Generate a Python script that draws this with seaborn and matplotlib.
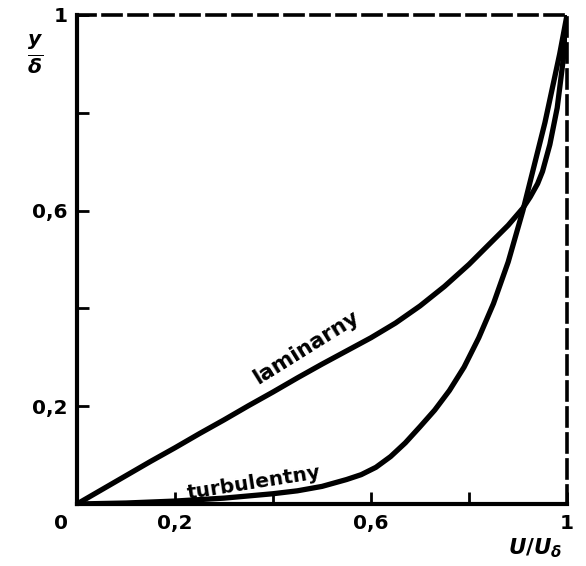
import matplotlib
matplotlib.use('Agg')
import matplotlib.pyplot as plt
import seaborn as sns
import pandas as pd

# velocity profiles: U/U_delta vs y/delta
laminar_u = [0.0, 0.05, 0.1, 0.15, 0.2, 0.25, 0.3, 0.35, 0.4, 0.45, 0.5, 0.55, 0.6,
             0.65, 0.7, 0.75, 0.8, 0.85, 0.88, 0.91, 0.925, 0.94, 0.95, 0.965, 0.98, 0.99, 0.997, 1.0]
laminar_y = [0.0, 0.029, 0.058, 0.087, 0.115, 0.144, 0.172, 0.201, 0.229, 0.258, 0.286, 0.313, 0.34,
             0.37, 0.405, 0.445, 0.49, 0.54, 0.57, 0.605, 0.628, 0.655, 0.68, 0.735, 0.81, 0.89, 0.95, 1.0]

turbulent_u = [0.0, 0.1, 0.2, 0.3, 0.4, 0.45, 0.5, 0.55, 0.58, 0.61, 0.64, 0.67, 0.7, 0.73,
               0.76, 0.79, 0.82, 0.85, 0.88, 0.91, 0.935, 0.955, 0.97, 0.985, 1.0]
turbulent_y = [0.0, 0.002, 0.006, 0.012, 0.021, 0.027, 0.036, 0.05, 0.06, 0.075, 0.097, 0.125, 0.158, 0.192,
               0.232, 0.28, 0.34, 0.41, 0.495, 0.60, 0.70, 0.78, 0.85, 0.92, 1.0]

x_ticks = [0.0, 0.2, 0.4, 0.6, 0.8, 1.0]
x_labels = ['', '0,2', '', '0,6', '', '1']
y_ticks = [0.0, 0.2, 0.4, 0.6, 0.8, 1.0]
y_labels = ['', '0,2', '', '0,6', '', '1']

sns.set_style('ticks')
plt.rcParams['font.family'] = ['DejaVu Sans']
plt.rcParams['text.color'] = 'black'
plt.rcParams['mathtext.fontset'] = 'custom'
plt.rcParams['mathtext.it'] = 'DejaVu Sans:bold:italic'
plt.rcParams['mathtext.rm'] = 'DejaVu Sans:bold'
plt.rcParams['mathtext.bf'] = 'DejaVu Sans:bold'

fig = plt.figure(figsize=(5.86, 5.66), dpi=100)
ax = fig.add_axes([77 / 586, 1 - 504 / 566, 490 / 586, 489 / 566])

df_lam = pd.DataFrame({'u': laminar_u, 'y': laminar_y})
df_tur = pd.DataFrame({'u': turbulent_u, 'y': turbulent_y})
for d in (df_lam, df_tur):
    sns.lineplot(data=d, x='u', y='y', ax=ax, color='black', lw=3.8,
                 estimator=None, sort=False, solid_capstyle='round',
                 solid_joinstyle='round')

ax.set_xlim(0, 1)
ax.set_ylim(0, 1)
ax.set_xlabel('')
ax.set_ylabel('')

# frame: solid left/bottom, dashed top/right
for side in ['left', 'bottom']:
    ax.spines[side].set_linewidth(3)
    ax.spines[side].set_color('black')
for side in ['top', 'right']:
    ax.spines[side].set_linewidth(2.6)
    ax.spines[side].set_color('black')
    ax.spines[side].set_linestyle((0, (5, 2.2)))

ax.set_xticks(x_ticks)
ax.set_xticklabels(x_labels, fontsize=14.5, fontweight='bold')
ax.set_yticks(y_ticks)
ax.set_yticklabels(y_labels, fontsize=14.5, fontweight='bold')
ax.tick_params(direction='in', length=8.5, width=2, pad=7, colors='black')
ax.tick_params(top=False, right=False)

ax.text(-0.018, -0.02, '0', transform=ax.transAxes, ha='right', va='top',
        fontsize=14.5, fontweight='bold')

ax.text(-0.085, 0.92, r'$\frac{y}{\delta}$', transform=ax.transAxes,
        ha='center', va='center', fontsize=21)
ax.text(0.99, -0.066, r'$U/U_\delta$', transform=ax.transAxes,
        ha='right', va='top', fontsize=15.5)

ax.text(0.467, 0.32, 'laminarny', transform=ax.transAxes, rotation=32,
        ha='center', va='center', fontsize=15.5, fontweight='bold')
ax.text(0.362, 0.042, 'turbulentny', transform=ax.transAxes, rotation=9,
        ha='center', va='center', fontsize=14.5, fontweight='bold')

plt.savefig('out.png', dpi=100)
plt.close(fig)
